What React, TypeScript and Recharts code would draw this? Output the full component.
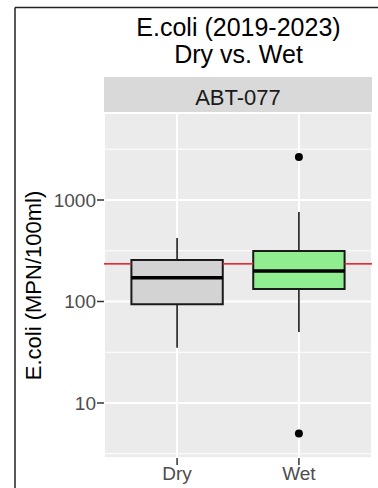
import {
  ComposedChart,
  XAxis,
  YAxis,
  CartesianGrid,
  ReferenceArea,
  ReferenceLine,
  Scatter,
} from "recharts";

const categories = ["Dry", "Wet"];
const positions = [1, 2];
const whiskerLow = [35, 50];
const q1 = [94, 133];
const median = [171, 200];
const q3 = [256, 315];
const whiskerHigh = [423, 762];
const boxFills = ["#D3D3D3", "#90EE90"];

const outlierPositions = [2, 2];
const outlierValues = [2650, 5];

const yTicks = [10, 100, 1000];
const yMinorTicks = [3.162, 31.62, 316.2, 3162];
const standard = 235;

const outliers = outlierPositions.map((pos, i) => ({ pos, value: outlierValues[i] }));

const FONT = "'Liberation Sans', Arial, Helvetica, sans-serif";
const HALF_BOX = 0.375;
const X_DOMAIN = [0.4, 2.6];
const Y_DOMAIN = [2.87, 7200];

// the standard line is drawn only in the gaps between boxes (it sits behind them)
const gapEdges = [X_DOMAIN[0], ...positions.flatMap((p) => [p - HALF_BOX, p + HALF_BOX]), X_DOMAIN[1]];
const standardGaps: number[][] = [];
for (let i = 0; i < gapEdges.length; i += 2) standardGaps.push([gapEdges[i], gapEdges[i + 1]]);

const Dot = (props: any) => <circle cx={props.cx} cy={props.cy} r={4} fill="#000" />;

export default function App() {
  return (
    <div style={{ position: "absolute", left: 0, top: 0, width: 378, height: 488, background: "#fff" }}>
      <svg width={378} height={488} style={{ position: "absolute", left: 0, top: 0 }}>
        <line x1={15} y1={7.5} x2={378} y2={7.5} stroke="#222" strokeWidth={1.5} />
        <line x1={15} y1={7.5} x2={15} y2={488} stroke="#222" strokeWidth={1.5} />
        <text x={238.5} y={36} textAnchor="middle" fontFamily={FONT} fontSize={25} fill="#000">
          E.coli (2019-2023)
        </text>
        <text x={238.5} y={63} textAnchor="middle" fontFamily={FONT} fontSize={25} fill="#000">
          Dry vs. Wet
        </text>
        <rect x={104} y={77} width={268} height={36} fill="#D9D9D9" />
        <text x={238} y={104.5} textAnchor="middle" fontFamily={FONT} fontSize={22} fill="#1A1A1A">
          ABT-077
        </text>
        <text
          x={0}
          y={0}
          transform="translate(41,285.5) rotate(-90)"
          textAnchor="middle"
          fontFamily={FONT}
          fontSize={22}
          fill="#000"
        >
          E.coli (MPN/100ml)
        </text>
      </svg>
      <div style={{ position: "absolute", left: 0, top: 0 }}>
        <ComposedChart width={378} height={488} margin={{ top: 113, right: 6, bottom: 0, left: 0 }}>
          <XAxis
            dataKey="pos"
            type="number"
            domain={X_DOMAIN}
            ticks={positions}
            tickFormatter={(v: number) => categories[positions.indexOf(v)]}
            axisLine={false}
            tickSize={7}
            tickMargin={2}
            tickLine={{ stroke: "#333", strokeWidth: 1.5 }}
            tick={{ fill: "#4D4D4D", fontSize: 19, fontFamily: FONT }}
            height={30}
          />
          <YAxis
            dataKey="value"
            type="number"
            scale="log"
            domain={Y_DOMAIN}
            allowDataOverflow
            ticks={yTicks}
            axisLine={false}
            tickSize={7}
            tickMargin={1}
            tickLine={{ stroke: "#333", strokeWidth: 1.5 }}
            tick={{ fill: "#4D4D4D", fontSize: 19, fontFamily: FONT }}
            width={104}
          />
          <YAxis
            yAxisId="minor"
            dataKey="value"
            type="number"
            scale="log"
            domain={Y_DOMAIN}
            allowDataOverflow
            ticks={yMinorTicks}
            hide
          />
          <CartesianGrid fill="#EBEBEB" stroke="#fff" strokeWidth={2} />
          <CartesianGrid yAxisId="minor" vertical={false} stroke="#fff" strokeWidth={1.2} />
          {standardGaps.map(([a, b], i) => (
            <ReferenceLine
              key={"std" + i}
              segment={[
                { x: a, y: standard },
                { x: b, y: standard },
              ]}
              stroke="#E8242A"
              strokeWidth={1.6}
              ifOverflow="extendDomain"
            />
          ))}
          {positions.map((p, i) => (
            <ReferenceLine
              key={"wh" + i}
              segment={[
                { x: p, y: q3[i] },
                { x: p, y: whiskerHigh[i] },
              ]}
              stroke="#1A1A1A"
              strokeWidth={1.6}
            />
          ))}
          {positions.map((p, i) => (
            <ReferenceLine
              key={"wl" + i}
              segment={[
                { x: p, y: whiskerLow[i] },
                { x: p, y: q1[i] },
              ]}
              stroke="#1A1A1A"
              strokeWidth={1.6}
            />
          ))}
          {positions.map((p, i) => (
            <ReferenceArea
              key={"box" + i}
              x1={p - HALF_BOX}
              x2={p + HALF_BOX}
              y1={q1[i]}
              y2={q3[i]}
              fill={boxFills[i]}
              fillOpacity={1}
              stroke="#1A1A1A"
              strokeWidth={2}
            />
          ))}
          {positions.map((p, i) => (
            <ReferenceLine
              key={"med" + i}
              segment={[
                { x: p - HALF_BOX, y: median[i] },
                { x: p + HALF_BOX, y: median[i] },
              ]}
              stroke="#000"
              strokeWidth={3.5}
            />
          ))}
          <Scatter data={outliers} dataKey="value" shape={Dot} isAnimationActive={false} />
        </ComposedChart>
      </div>
    </div>
  );
}
